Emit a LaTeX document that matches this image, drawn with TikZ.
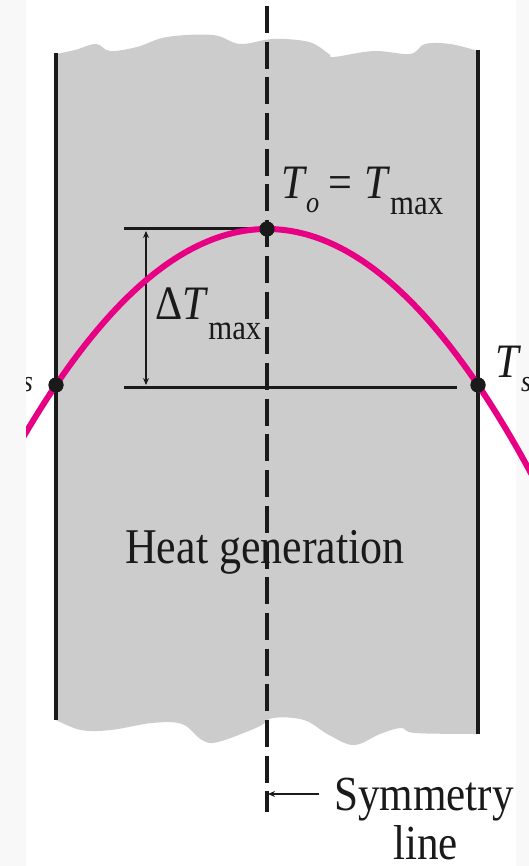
\documentclass[tikz,border=0pt]{standalone}
\usepackage{fontspec}
\setmainfont{Liberation Serif}[FakeStretch=0.88]
\usetikzlibrary{arrows.meta}
\definecolor{slab}{HTML}{CCCCCC}
\definecolor{curvecol}{RGB}{232,0,132}
\definecolor{ink}{HTML}{1A1A1A}
\definecolor{pad}{HTML}{F8F8F8}
\tikzset{
  lbl/.style={font=\fontsize{48}{51}\selectfont, inner sep=0pt, text=ink},
  wall/.style={draw=ink, line width=4pt},
  symdash/.style={draw=ink, line width=4pt, dash pattern=on 27pt off 8.7pt},
  hline/.style={draw=ink, line width=3pt},
  dimarrow/.style={draw=ink, line width=2pt, {Stealth[length=7pt,width=6pt]}-{Stealth[length=7pt,width=6pt]}},
  leader/.style={draw=ink, line width=2pt, -{Stealth[length=7pt,width=6pt]}},
  tcurve/.style={draw=curvecol, line width=6pt},
  dot/.style={circle, fill=ink, inner sep=0pt, minimum size=15pt}
}
\begin{document}
\begin{tikzpicture}[x=1pt,y=-1pt]
\useasboundingbox (0,0) rectangle (529,866);
\fill[white] (0,0) rectangle (529,866);
\fill[pad] (0,0) rectangle (26,866);
\fill[pad] (516,0) rectangle (529,866);
\begin{scope}
\clip (26,0) rectangle (529,866);
% slab
\fill[slab] plot[smooth, tension=0.6] coordinates {(56,54) (75,50) (96,44) (110,51) (137,47) (167,37) (213,35) (240,44) (273,39) (309,42) (329,54) (334,57) (374,51) (410,54) (425,44) (450,44) (478,51)}
  -- plot[smooth, tension=0.6] coordinates {(478,734) (415,733) (401,728) (380,734) (354,745) (329,735) (304,720) (273,718) (258,727) (218,742) (202,740) (182,724) (152,723) (111,730) (81,730) (56,720)} -- cycle;
% symmetry line
\coordinate (symtop) at (267,6);
\coordinate (symbot) at (267,812);
\draw[symdash] (symtop) -- (symbot);
% walls
\coordinate (lwt) at (56,53);
\coordinate (lwb) at (56,720);
\coordinate (rwt) at (478,50);
\coordinate (rwb) at (478,734);
\draw[wall] (lwt) -- (lwb);
\draw[wall] (rwt) -- (rwb);
% dots
\node[dot] (top) at (267,229) {};
\node[dot] (left) at (56,385) {};
\node[dot] (right) at (478,385) {};
% horizontal reference lines
\coordinate (hlt) at (124,229);
\coordinate (hlb) at (124,387);
\coordinate (hlbe) at (457,387);
\draw[hline] (hlt) -- (top);
\draw[hline] (hlb) -- (hlbe);
% dimension arrow
\coordinate (dimtop) at (146,231);
\coordinate (dimbot) at (146,385);
\draw[dimarrow] (dimtop) -- (dimbot);
% temperature curve
\draw[tcurve] plot[domain=20:535, samples=120] (\x, {229+156*((\x-267)/211)^2});
\node[dot] at (top) {};
\node[dot] at (left) {};
\node[dot] at (right) {};
% labels
\node[lbl, anchor=base west] (tmax) at (281,199) {\textit{T}\hspace{-1pt}\raisebox{-14pt}{\fontsize{30}{30}\selectfont\textit{o}}\hspace{9pt}=\hspace{12pt}\textit{T}\raisebox{-16pt}{\fontsize{35}{35}\selectfont max}};
\node[lbl, anchor=base west] (dT) at (155,319) {Δ\textit{T}\raisebox{-20pt}{\fontsize{35}{35}\selectfont max}};
\node[lbl, anchor=base west] (tsr) at (495,377) {\textit{T}\raisebox{-14pt}{\fontsize{30}{30}\selectfont\textit{s}}};
\node[lbl, anchor=base east] (tsl) at (33,377) {\textit{T}\raisebox{-14pt}{\fontsize{30}{30}\selectfont\textit{s}}};
\node[lbl, font=\fontsize{50}{51}\selectfont, anchor=base west] (heat) at (125,563) {Heat generation};
\node[lbl, font=\fontsize{49}{51}\selectfont, anchor=base west] (sym) at (334,810) {Symmetry};
\node[lbl, font=\fontsize{49}{51}\selectfont, anchor=base west] (symline) at (393,859) {line};
\coordinate (symtail) at (319,794);
\coordinate (symtip) at (268,794);
\draw[leader] (symtail) -- (symtip);
\end{scope}
\end{tikzpicture}
\end{document}
